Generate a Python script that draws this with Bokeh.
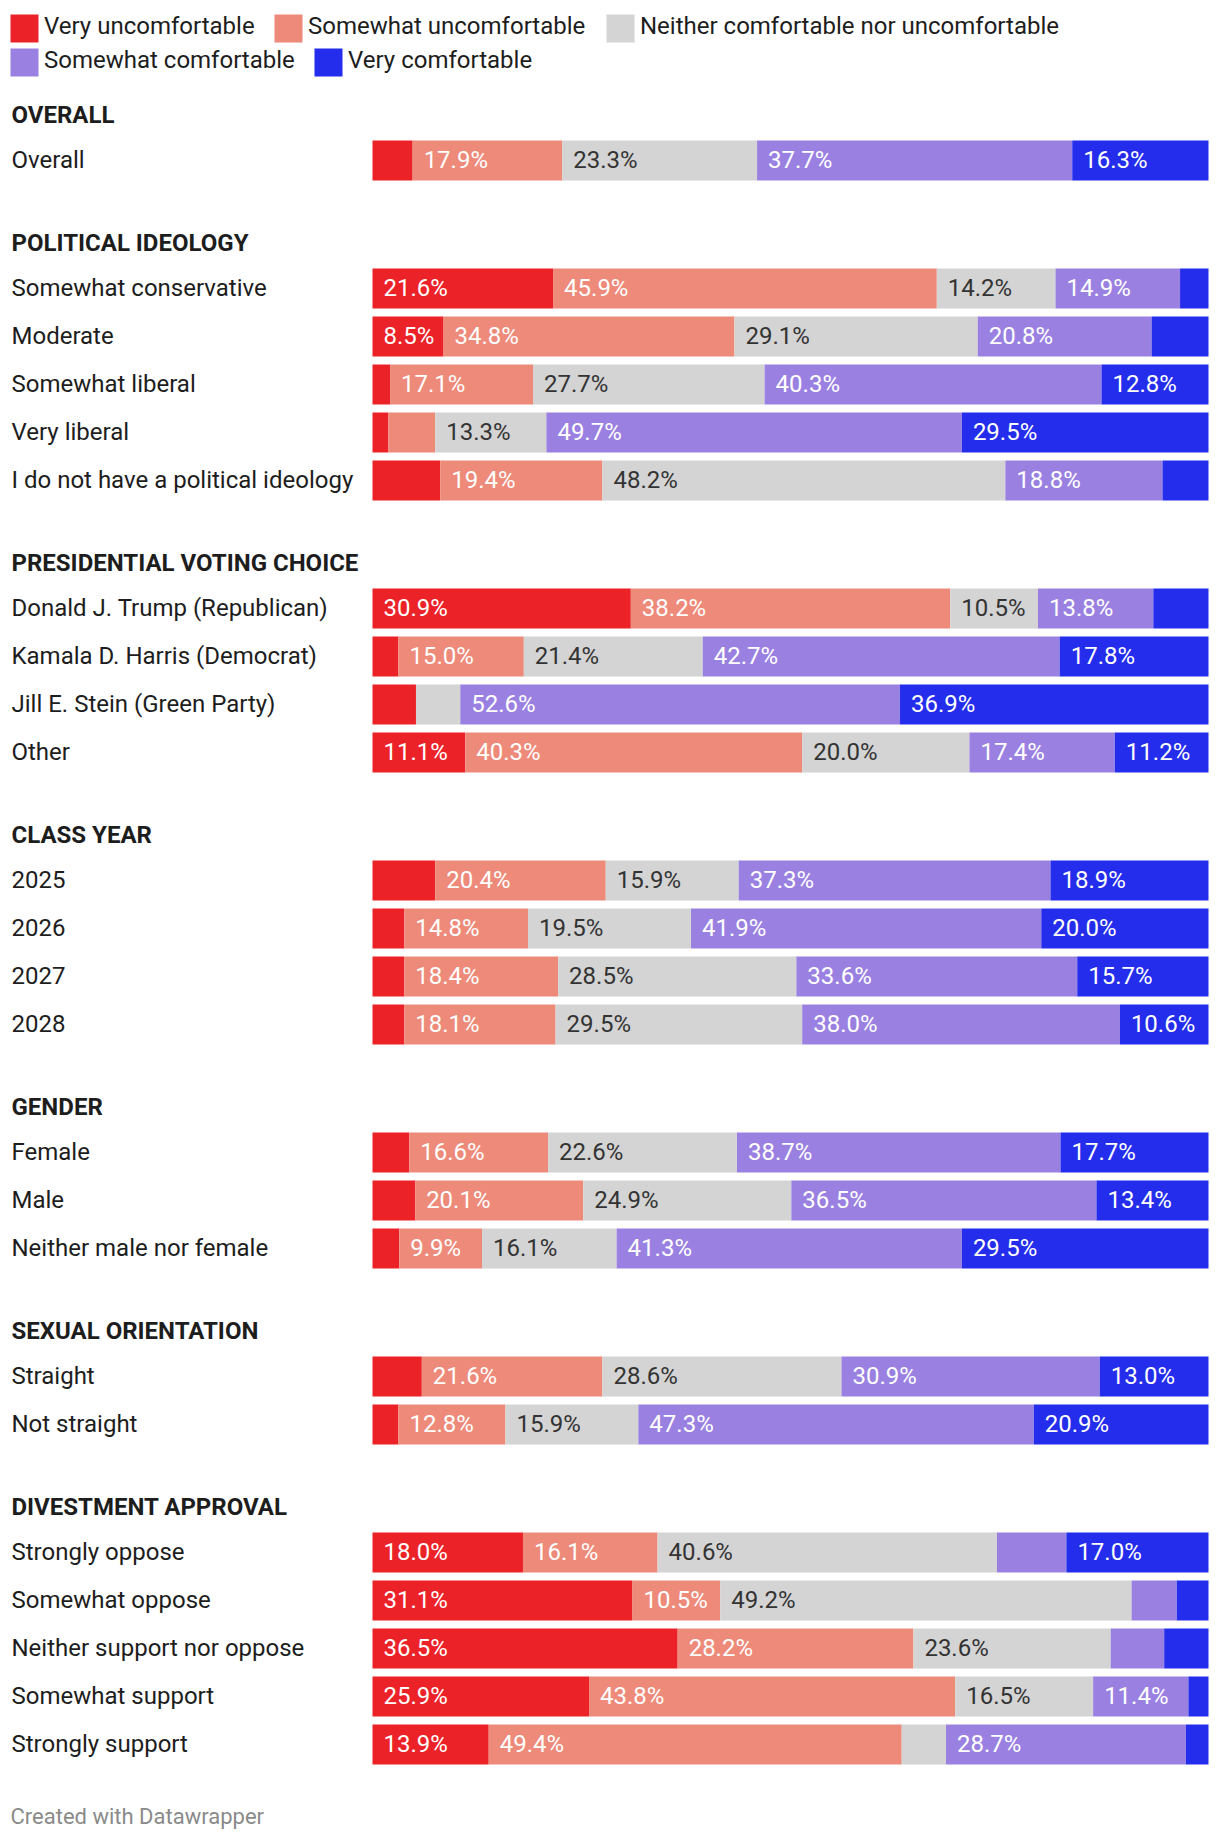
from bokeh.plotting import figure
from bokeh.models import Range1d, ColumnDataSource
from bokeh.embed import file_html
from bokeh.resources import INLINE
from bokeh.core.properties import value

# ---------------- data ----------------
series = ["Very uncomfortable", "Somewhat uncomfortable",
          "Neither comfortable nor uncomfortable",
          "Somewhat comfortable", "Very comfortable"]

group_names = ["OVERALL", "POLITICAL IDEOLOGY", "PRESIDENTIAL VOTING CHOICE",
               "CLASS YEAR", "GENDER", "SEXUAL ORIENTATION", "DIVESTMENT APPROVAL"]

row_labels = ["Overall",
              "Somewhat conservative", "Moderate", "Somewhat liberal", "Very liberal",
              "I do not have a political ideology",
              "Donald J. Trump (Republican)", "Kamala D. Harris (Democrat)",
              "Jill E. Stein (Green Party)", "Other",
              "2025", "2026", "2027", "2028",
              "Female", "Male", "Neither male nor female",
              "Straight", "Not straight",
              "Strongly oppose", "Somewhat oppose", "Neither support nor oppose",
              "Somewhat support", "Strongly support"]
row_group = [0, 1, 1, 1, 1, 1, 2, 2, 2, 2, 3, 3, 3, 3, 4, 4, 4, 5, 5, 6, 6, 6, 6, 6]

very_uncomfortable = [4.8, 21.6, 8.5, 2.1, 1.9, 8.1, 30.9, 3.1, 5.2, 11.1, 7.5, 3.8, 3.8, 3.8,
                      4.4, 5.1, 3.2, 5.9, 3.1, 18.0, 31.1, 36.5, 25.9, 13.9]
somewhat_uncomfortable = [17.9, 45.9, 34.8, 17.1, 5.6, 19.4, 38.2, 15.0, 0.0, 40.3, 20.4, 14.8, 18.4, 18.1,
                          16.6, 20.1, 9.9, 21.6, 12.8, 16.1, 10.5, 28.2, 43.8, 49.4]
neither = [23.3, 14.2, 29.1, 27.7, 13.3, 48.2, 10.5, 21.4, 5.3, 20.0, 15.9, 19.5, 28.5, 29.5,
           22.6, 24.9, 16.1, 28.6, 15.9, 40.6, 49.2, 23.6, 16.5, 5.3]
somewhat_comfortable = [37.7, 14.9, 20.8, 40.3, 49.7, 18.8, 13.8, 42.7, 52.6, 17.4, 37.3, 41.9, 33.6, 38.0,
                        38.7, 36.5, 41.3, 30.9, 47.3, 8.3, 5.4, 6.4, 11.4, 28.7]
very_comfortable = [16.3, 3.4, 6.8, 12.8, 29.5, 5.5, 6.6, 17.8, 36.9, 11.2, 18.9, 20.0, 15.7, 10.6,
                    17.7, 13.4, 29.5, 13.0, 20.9, 17.0, 3.8, 5.3, 2.4, 2.7]

all_series = [very_uncomfortable, somewhat_uncomfortable, neither,
              somewhat_comfortable, very_comfortable]

# ---------------- styles / layout ----------------
colors = ["#ec2229", "#ed8a7a", "#d4d4d4", "#9a81e1", "#232deb"]
label_colors = ["#ffffff", "#ffffff", "#333333", "#ffffff", "#ffffff"]
FONT = value("Roboto")
FS = value("24px")

FIG_W, FIG_H = 1216, 1836
BAR_LEFT, BAR_W = 372, 836          # px inside figure for 0..100 %
PX = BAR_W / 100.0


def xd(px):
    return (px - BAR_LEFT) / PX


FIRST_BAR_Y = 160
PITCH = 48
GROUP_STEP = 128
HEADER_OFF = 45
BAR_H = 40
LABEL_PAD = 11 / PX
THRESH = 8.4
TEXT_X = 11
TXT_DY = -1          # small optical shift of text relative to bar centre

# compute row y centres
row_y = []
header_y = {}
y = FIRST_BAR_Y
for i, g in enumerate(row_group):
    if i > 0:
        y += PITCH if row_group[i - 1] == g else GROUP_STEP
    if g not in header_y:
        header_y[g] = y - HEADER_OFF
    row_y.append(y)

p = figure(width=FIG_W, height=FIG_H, output_backend="svg", toolbar_location=None,
           x_range=Range1d(xd(0), xd(FIG_W)), y_range=Range1d(FIG_H, 0),
           x_axis_type=None, y_axis_type=None, min_border=0,
           background_fill_color="white", border_fill_color="white")
p.grid.visible = False
p.outline_line_color = None

# stacked bars
lab_x, lab_y, lab_t, lab_c = [], [], [], []
left = [0.0] * len(row_labels)
for s, vals in enumerate(all_series):
    right = [l + v for l, v in zip(left, vals)]
    src = ColumnDataSource(dict(y=row_y, left=left, right=right))
    p.hbar(y="y", left="left", right="right", height=BAR_H, source=src,
           fill_color=colors[s], line_color=None)
    for i, v in enumerate(vals):
        if v >= THRESH:
            lab_x.append(left[i] + LABEL_PAD)
            lab_y.append(row_y[i] + TXT_DY)
            lab_t.append(f"{v:.1f}%")
            lab_c.append(label_colors[s])
    left = right

p.text(x="x", y="y", text="t", text_color="c",
       source=ColumnDataSource(dict(x=lab_x, y=lab_y, t=lab_t, c=lab_c)),
       text_font=FONT, text_font_size=FS, text_baseline="middle", text_align="left")

# row labels
p.text(x=[xd(TEXT_X)] * len(row_labels), y=[v + TXT_DY for v in row_y], text=row_labels,
       text_color="#1d1d1d", text_font=FONT, text_font_size=FS,
       text_baseline="middle", text_align="left")

# group headers
p.text(x=[xd(TEXT_X)] * len(group_names),
       y=[header_y[g] + TXT_DY for g in range(len(group_names))],
       text=group_names, text_color="#1d1d1d", text_font=FONT, text_font_size=FS,
       text_font_style="bold", text_baseline="middle", text_align="left")

# legend (two rows)
leg_sq_x = [10, 274, 606, 10, 314]
leg_row_y = [28, 28, 28, 62, 62]
SQ = 28
p.quad(left=[xd(v) for v in leg_sq_x], right=[xd(v + SQ) for v in leg_sq_x],
       top=[v - SQ / 2 for v in leg_row_y], bottom=[v + SQ / 2 for v in leg_row_y],
       fill_color=colors, line_color=None)
p.text(x=[xd(v + 33.5) for v in leg_sq_x], y=[v - 3 for v in leg_row_y], text=series,
       text_color="#1d1d1d", text_font=FONT, text_font_size=FS,
       text_baseline="middle", text_align="left")

# footer
p.text(x=[xd(10)], y=[1816], text=["Created with Datawrapper"], text_color="#8a8a8a",
       text_font=FONT, text_font_size=value("22px"), text_baseline="middle", text_align="left")

open("out.html", "w").write(file_html(p, INLINE))
